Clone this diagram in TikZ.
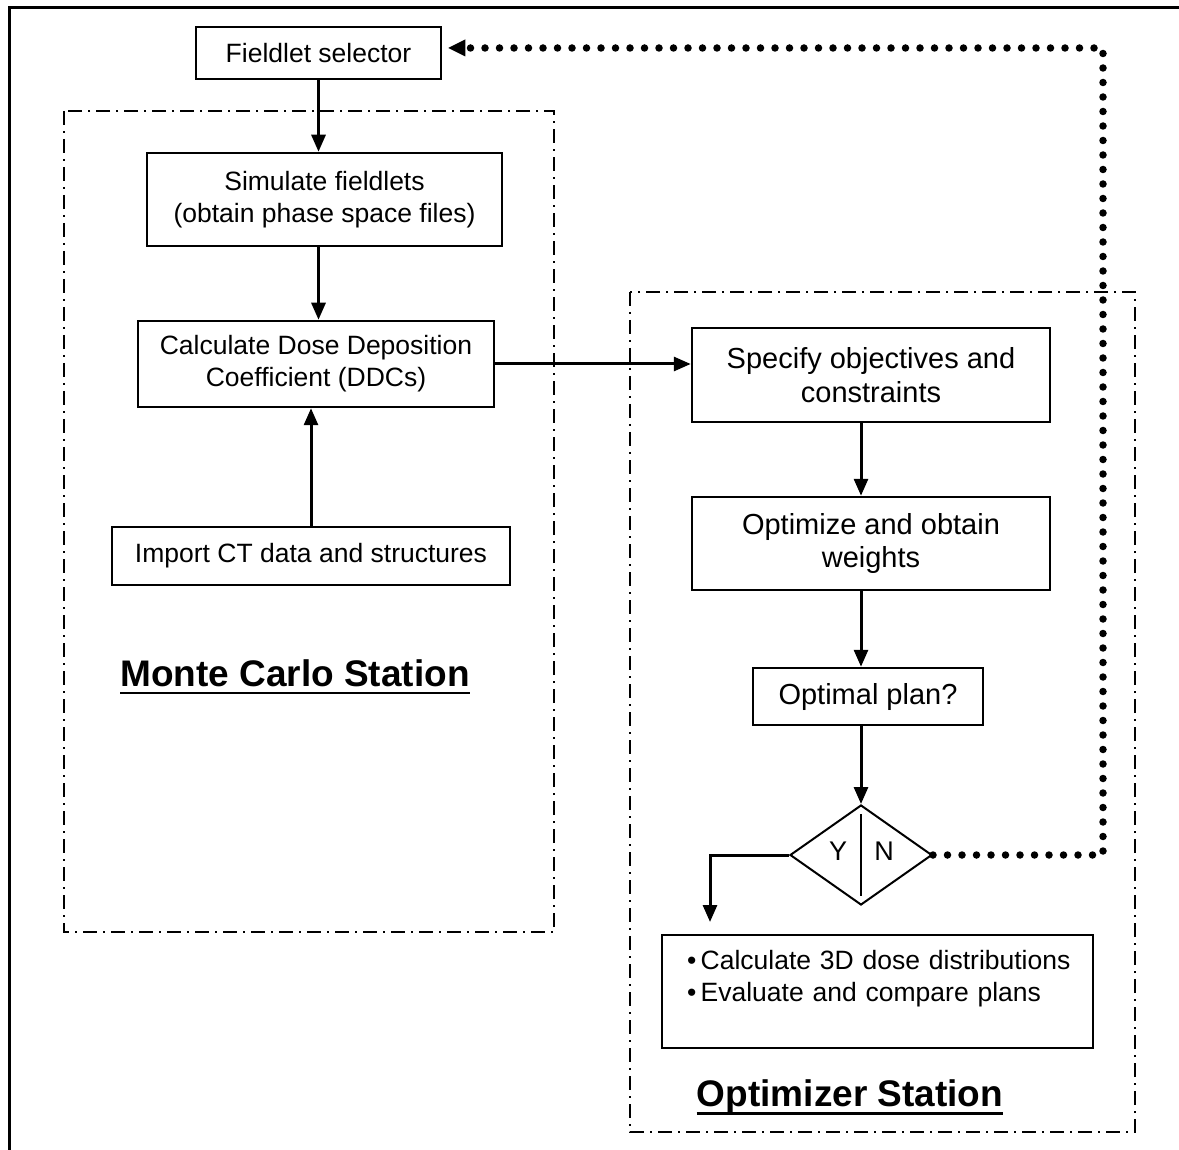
\documentclass[tikz,border=0pt]{standalone}
\usepackage{fontspec}
\setmainfont{Liberation Sans}
\usepackage{tikz}
\usetikzlibrary{arrows.meta,shapes.geometric}

\begin{document}
\begin{tikzpicture}[x=1pt, y=-1pt,
	box/.style = {draw, line width=2.5pt, align=center, inner sep=0pt, font=\fontsize{26.5}{32}\selectfont},
	bigbox/.style = {box, font=\fontsize{29}{33.5}\selectfont},
	station/.style = {inner sep=0pt, font=\fontsize{37}{40}\selectfont\bfseries},
	flow/.style = {line width=3pt, -{Triangle[length=17pt,width=14pt]}},
	region/.style = {line width=2pt, dash pattern=on 14pt off 6pt on 2pt off 6pt},
	feedback/.style = {line width=7.5pt, line cap=round, dash pattern=on 0pt off 14.5pt, -{Triangle[length=17pt,width=17pt,line width=0pt]}}]
							\useasboundingbox (0,0) rectangle (1179,1150);
							\draw[line width=3pt] (9,1150) -- (9,8) -- (1179,8);
							\draw[region] (64,111) rectangle (554,932);
							\draw[region] (630,292) rectangle (1135,1132);
							
							\node[box, minimum width=245, minimum height=52] (sel) at (318.5,53) {Fieldlet selector};
							\node[box, minimum width=355, minimum height=93] (sim) at (324.5,199.5) {Simulate fieldlets\\(obtain phase space files)};
							\node[box, minimum width=356, minimum height=86] (calc) at (316,364) {Calculate Dose Deposition\\Coefficient (DDCs)};
							\node[box, minimum width=398, minimum height=58] (imp) at (311,556) {Import CT data and structures};
							\node[station] (mcs) at (295,673) {Monte Carlo Station};
							\draw[line width=2.5pt] ([yshift=-7pt]mcs.base west) -- ([yshift=-7pt]mcs.base east);
							
							\node[bigbox, minimum width=358, minimum height=94] (spec) at (871,375) {Specify objectives and\\constraints};
							\node[bigbox, minimum width=358, minimum height=93] (optim) at (871,543.5) {Optimize and obtain\\weights};
							\node[bigbox, minimum width=230, minimum height=57] (opt) at (868,696.5) {Optimal plan?};
							\node[draw, shape=diamond, line width=2pt, inner sep=0pt, minimum width=142, minimum height=100] (dec) at (861,855) {};
							\draw[line width=2pt] ([yshift=-10pt]dec.north) -- ([yshift=10pt]dec.south);
							\node[font=\fontsize{27}{30}\selectfont] (yes) at (838,851) {Y};
							\node[font=\fontsize{27}{30}\selectfont] (no) at (884,851) {N};
							\node[box, minimum width=431, minimum height=113, text width=405, inner xsep=13pt, align=left] (res) at (877.5,991.5) {\hspace*{12pt}\textbullet\,Calculate 3D dose distributions\\\hspace*{12pt}\textbullet\,Evaluate and compare plans\\\mbox{}};
							\node[station] (ops) at (850,1097) {Optimizer Station};
							\draw[line width=2.5pt] ([yshift=-7pt]ops.base west) -- ([yshift=-7pt]ops.base east);
							
							\draw[flow] (sel.south) -- (sel.south |- sim.north);
							\draw[flow] (sim.south -| sel.south) -- (calc.north -| sel.south);
							\draw[flow] (imp.north) -- (imp.north |- calc.south);
							\draw[flow] (calc.east) -- (calc.east -| spec.west);
							\draw[flow] (spec.south -| dec.north) -- (optim.north -| dec.north);
							\draw[flow] (optim.south -| dec.north) -- (opt.north -| dec.north);
							\draw[flow] (opt.south -| dec.north) -- (dec.north);
							
							\coordinate (ybend) at (710,922);
							\coordinate (loop) at (1103,48);
							\draw[flow] (dec.west) -| (ybend);
							\draw[feedback] (dec.east) -| (loop) -- ([xshift=6pt]sel.east |- loop);
							
						\end{tikzpicture}
\end{document}
